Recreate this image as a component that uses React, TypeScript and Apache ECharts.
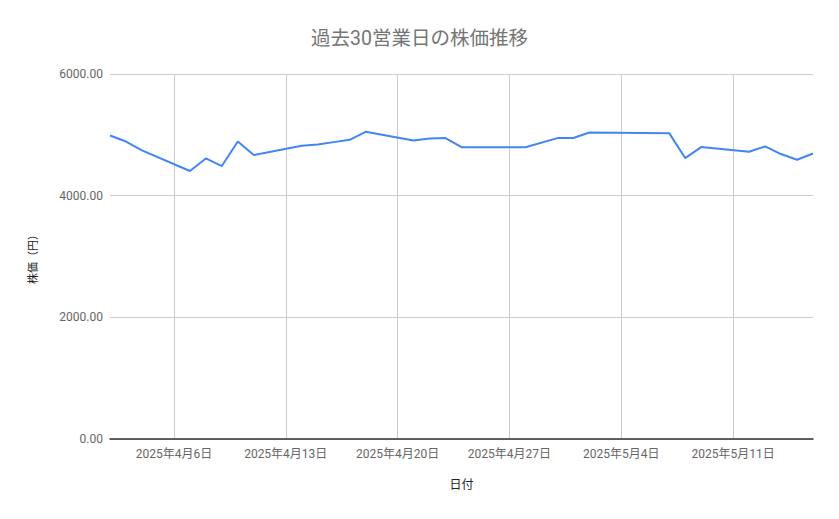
import React, { useEffect, useRef } from 'react'
import * as echarts from 'echarts'

// 過去30営業日の株価
const dates = [
  '2025-04-02', '2025-04-03', '2025-04-04', '2025-04-07', '2025-04-08',
  '2025-04-09', '2025-04-10', '2025-04-11', '2025-04-14', '2025-04-15',
  '2025-04-16', '2025-04-17', '2025-04-18', '2025-04-21', '2025-04-22',
  '2025-04-23', '2025-04-24', '2025-04-25', '2025-04-28', '2025-04-30',
  '2025-05-01', '2025-05-02', '2025-05-07', '2025-05-08', '2025-05-09',
  '2025-05-12', '2025-05-13', '2025-05-14', '2025-05-15', '2025-05-16',
]
const prices = [
  4990, 4890, 4745, 4405, 4612,
  4487, 4890, 4667, 4820, 4842,
  4880, 4918, 5049, 4907, 4940,
  4946, 4797, 4796, 4795, 4946,
  4948, 5038, 5028, 4618, 4799,
  4722, 4809, 4684, 4590, 4694,
]
const xTicks = ['2025-04-06', '2025-04-13', '2025-04-20', '2025-04-27', '2025-05-04', '2025-05-11']
const xMin = '2025-04-02'
const xMax = '2025-05-16'

const font = 'Roboto, "Noto Sans CJK JP", sans-serif'

const toTime = (d: string) => echarts.time.parse(d).getTime()

const App: React.FC = () => {
  const chartRef = useRef<HTMLDivElement>(null)

  useEffect(() => {
    if (!chartRef.current) return
    const chart = echarts.init(chartRef.current, undefined, { renderer: 'svg' })

    const tickValues = xTicks.map(toTime)

    const option: echarts.EChartsOption = {
      animation: false,
      backgroundColor: '#fff',
      title: {
        text: '過去30営業日の株価推移',
        left: 'center',
        top: 24,
        textStyle: { color: '#757575', fontSize: 19.5, fontWeight: 'normal', fontFamily: font },
      },
      grid: { left: 110, right: 26, top: 74, bottom: 80 },
      xAxis: {
        type: 'value',
        min: toTime(xMin),
        max: toTime(xMax),
        name: '日付',
        nameLocation: 'middle',
        nameGap: 40,
        nameTextStyle: { color: '#222', fontSize: 12, fontFamily: font },
        axisLine: { show: true, lineStyle: { color: '#333', width: 1.5 } },
        axisTick: { show: false, customValues: tickValues },
        axisLabel: {
          customValues: tickValues,
          color: '#666',
          fontSize: 12,
          margin: 9,
          fontFamily: font,
          formatter: (v: number) => {
            const d = new Date(v)
            return `${d.getFullYear()}年${d.getMonth() + 1}月${d.getDate()}日`
          },
        },
        splitLine: { show: true, lineStyle: { color: '#cccccc', width: 1 } },
      },
      yAxis: {
        type: 'value',
        min: 0,
        max: 6000,
        interval: 2000,
        name: '株価（円）',
        nameLocation: 'middle',
        nameGap: 71,
        nameTextStyle: { color: '#222', fontSize: 11, fontFamily: font },
        axisLine: { show: false },
        axisTick: { show: false },
        axisLabel: {
          color: '#666',
          fontSize: 12,
          margin: 7,
          fontFamily: font,
          formatter: (v: number) => v.toFixed(2),
        },
        splitLine: { lineStyle: { color: '#cccccc', width: 1 } },
      },
      series: [
        {
          type: 'line',
          data: dates.map((d, i) => [toTime(d), prices[i]]),
          showSymbol: false,
          lineStyle: { color: '#4285f4', width: 2 },
          itemStyle: { color: '#4285f4' },
        },
      ],
    }

    chart.setOption(option)

    return () => {
      chart.dispose()
    }
  }, [])

  return (
    <div
      ref={chartRef}
      style={{ position: 'absolute', left: 0, top: 0, width: 839, height: 519 }}
    />
  )
}

export default App
